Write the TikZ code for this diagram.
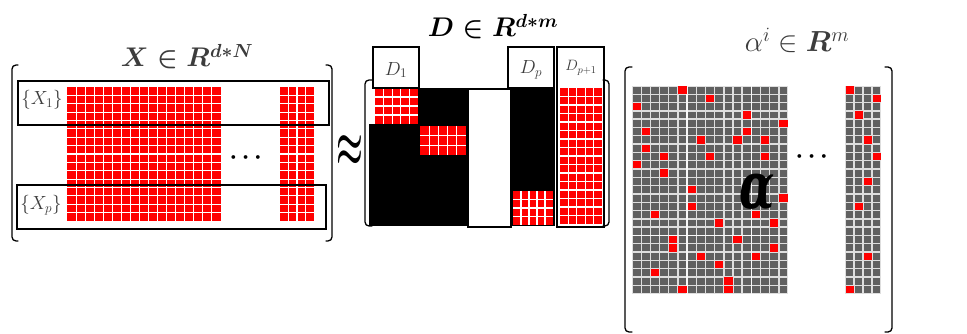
\RequirePackage{fix-cm}
\documentclass[tikz,border=0pt]{standalone}
\usepackage{amsmath,bm}
\usepackage{fontspec}
\newfontfamily\heavyserif{DejaVu Serif}
\definecolor{cellred}{RGB}{255,0,0}
\definecolor{cellgray}{RGB}{96,96,96}
\definecolor{gapgray}{RGB}{222,222,222}
\definecolor{inkgray}{RGB}{60,60,60}

\tikzset{
  frame/.style={draw=black, line width=1.6pt},
  heavyline/.style={draw=black, line width=2.8pt},
  bracketline/.style={draw=black, line width=1.3pt, line cap=round, rounded corners=4pt},
  cellline/.style={draw=white, line width=1.1pt},
  title/.style={anchor=base, inner sep=0pt, text=inkgray, font=\fontsize{27}{30}\selectfont},
  sublabel/.style={inner sep=0pt, text=inkgray, font=\fontsize{19}{22}\selectfont},
  dotsnode/.style={inner sep=0pt, font=\fontsize{24}{24}\selectfont\boldmath},
}

% red block split into nx by ny cells by white lines
\newcommand\redcells[6]{%
  \fill[cellred] (#1,#2) rectangle (#3,#4);
  \pgfmathtruncatemacro\nxm{#5-1}
  \pgfmathtruncatemacro\nym{#6-1}
  \foreach \i in {1,...,\nxm} \draw[cellline] ({#1+\i*(#3-#1)/#5},#2) -- ({#1+\i*(#3-#1)/#5},#4);
  \foreach \j in {1,...,\nym} \draw[cellline] (#1,{#2+\j*(#4-#2)/#6}) -- (#3,{#2+\j*(#4-#2)/#6});
}

\begin{document}
\begin{tikzpicture}[x=1pt, y=-1pt]
\useasboundingbox (0,0) rectangle (967,334);
\fill[white] (0,0) rectangle (967,334);

% ---------- data matrix X ----------
\node[title, font=\fontsize{27}{30}\selectfont\boldmath] (xtitle) at (187,67) {$X \in R^{d*N}$};
\redcells{67}{87}{221}{221}{17}{16}
\redcells{280}{87}{314}{221}{4}{16}
\node[dotsnode] (xdots) at (248,158) {$\cdots$};
\draw[frame] (18,81) rectangle (329,125);
\draw[frame] (17,185) rectangle (326,229);
\draw[heavyline] (67,125) -- (329,125);
\draw[heavyline] (17,185) -- (326,185);
\node[sublabel] (x1) at (42,100) {$\{X_1\}$};
\node[sublabel] (xp) at (41,205) {$\{X_p\}$};
\draw[bracketline] (18,65) -- (12,65) -- (12,241) -- (18,241);
\draw[bracketline] (326,65) -- (332,65) -- (332,241) -- (326,241);

% approximately equal
\node[inner sep=0pt, font=\fontsize{30}{30}\selectfont\boldmath] (approx) at (350,151)
  {\scalebox{1}[1.9]{$\approx$}};

% ---------- dictionary D ----------
\node[title, text=black, font=\fontsize{27}{30}\selectfont\boldmath] (dtitle) at (493,37) {$D \in R^{d*m}$};
\fill[black] (418,88) rectangle (468,226);
\fill[black] (369,124) rectangle (418,226);
\redcells{375}{88}{418}{124}{5}{4}
\redcells{420}{126}{466}{155}{5}{3}
\draw[line width=1.2pt, fill=white] (468,89) rectangle (511,227);
\fill[black] (512,88) rectangle (555,226);
\redcells{513}{191}{553}{225}{5}{4}
\redcells{560}{88}{602}{224}{5}{16}
\draw[frame, fill=white] (373,47) rectangle (419,88);
\draw[frame, fill=white] (508,47) rectangle (554,88);
\draw[frame] (557,47) rectangle (604,227);
\node[sublabel] (d1) at (396,70) {$D_1$};
\node[sublabel] (dp) at (531,70) {$D_p$};
\node[sublabel, font=\fontsize{15}{17}\selectfont] (dp1) at (581,68) {$D_{p+1}$};
\draw[bracketline] (372,80) -- (365,80) -- (365,226) -- (372,226);
\draw[bracketline] (603,80) -- (609,80) -- (609,226) -- (603,226);

% ---------- sparse codes alpha ----------
\node[title, font=\fontsize{29}{32}\selectfont] (atitle) at (797,52) {$\alpha^{i} \in \bm{R}^{m}$};
\fill[gapgray] (632,86) rectangle (788,294);
\fill[gapgray] (845,86) rectangle (881,294);
\foreach \c in {0,...,16} \foreach \r in {0,...,24}
  \fill[cellgray] ({632+\c*9.18+0.7},{86+\r*8.3+0.7}) rectangle ++(7.8,6.9);
\foreach \c in {0,...,3} \foreach \r in {0,...,24}
  \fill[cellgray] ({845+\c*9+0.7},{86+\r*8.3+0.7}) rectangle ++(7.6,6.9);
% slightly wider light seams in the code grid
\draw[white, line width=1.4pt, opacity=0.8] (687.1,86) -- (687.1,294);
\draw[white, line width=1.4pt, opacity=0.8] (751.3,86) -- (751.3,294);
\draw[white, line width=1.4pt, opacity=0.8] (632,235.4) -- (788,235.4);
\foreach \c/\r in {5/0,8/1,0/2,12/3,16/4,1/5,12/5,7/6,11/6,14/6,1/7,3/8,8/8,14/8,0/9,3/10,
                  6/12,16/13,6/14,2/15,13/15,9/16,15/16,4/18,11/18,4/19,15/19,7/20,13/20,
                  9/21,2/22,10/23,10/24,5/24}
  \fill[cellred] ({632+\c*9.18+0.5},{86+\r*8.3+0.5}) rectangle ++(8.2,7.3);
\foreach \c/\r in {0/0,3/1,1/3,2/6,3/8,2/11,1/14,2/20,0/24}
  \fill[cellred] ({845+\c*9+0.5},{86+\r*8.3+0.5}) rectangle ++(8,7.3);
\node[inner sep=0pt, font=\fontsize{54}{54}\selectfont\heavyserif\bfseries\itshape] (abig) at (757,192)
  {\scalebox{0.85}[1.2]{α}};
\node[dotsnode] (adots) at (814,157) {$\cdots$};
\draw[bracketline] (632,67) -- (625,67) -- (625,332) -- (632,332);
\draw[bracketline] (885,67) -- (892,67) -- (892,332) -- (885,332);
\end{tikzpicture}
\end{document}
